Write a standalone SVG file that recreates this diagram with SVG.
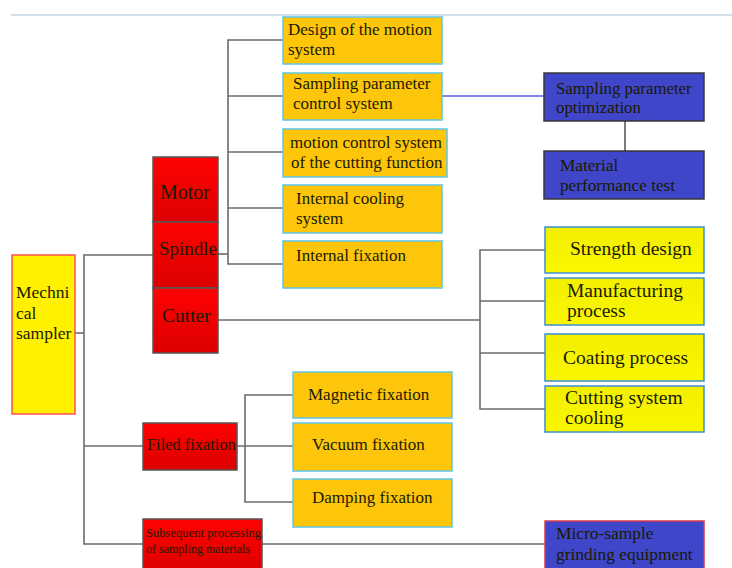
<svg xmlns="http://www.w3.org/2000/svg" width="732" height="568" viewBox="0 0 732 568">
<defs>
<linearGradient id="red" x1="0" y1="0" x2="0" y2="1">
<stop offset="0" stop-color="#ff0202"/>
<stop offset="1" stop-color="#dc0000"/>
</linearGradient>
<linearGradient id="yel" x1="0" y1="0" x2="0" y2="1">
<stop offset="0" stop-color="#f2ef00"/>
<stop offset="1" stop-color="#fbf700"/>
</linearGradient>
</defs>
<style>
text{font-family:"Liberation Serif","Times New Roman",serif;fill:#1a1a00}
.red{fill:url(#red);stroke:#555;stroke-width:1.5}
.org{fill:#fdc60b;stroke:#5ec6e6;stroke-width:1.5}
.yel{fill:url(#yel);stroke:#3c8fd2;stroke-width:1.5}
.blu{fill:#3f46c9;stroke:#3a3a3a;stroke-width:1.5}
.root{fill:#fff100;stroke:#ff5050;stroke-width:1.5}
.c{fill:none;stroke:#6b6b6b;stroke-width:1.6}
.t17{font-size:17px}
.t19{font-size:19.5px}
</style>
<line x1="11" y1="15" x2="732" y2="15" stroke="#c6d4e6" stroke-width="1.5"/>
<g id="connectors">
<polyline class="c" points="75,333 84,333"/>
<polyline class="c" points="153,255 84,255 84,544 143,544"/>
<polyline class="c" points="84,446 143,446"/>
<polyline class="c" points="218,254 228,254"/>
<polyline class="c" points="283,40 228,40 228,264 283,264"/>
<polyline class="c" points="228,96 283,96"/>
<polyline class="c" points="228,152 283,152"/>
<polyline class="c" points="228,208 283,208"/>
<polyline class="c" points="218,320 480,320"/>
<polyline class="c" points="545,250 480,250 480,409 545,409"/>
<polyline class="c" points="480,301 545,301"/>
<polyline class="c" points="480,353 545,353"/>
<polyline class="c" points="237,446 293,446"/>
<polyline class="c" points="293,395 245,395 245,502 293,502"/>
<polyline class="c" points="262,544 545,544"/>
<line x1="442" y1="96" x2="544" y2="96" stroke="#5b5bdc" stroke-width="1.4"/>
<line x1="625" y1="121" x2="625" y2="151" stroke="#5a5a5a" stroke-width="1.6"/>
</g>
<g id="root">
<rect class="root" x="12" y="255" width="63" height="159"/>
<text x="16" y="298" font-size="17.5">Mechni</text>
<text x="16" y="319" font-size="17.5">cal</text>
<text x="16" y="339" font-size="17.5">sampler</text>
</g>
<g id="motor">
<rect class="red" x="153" y="157" width="65" height="65"/>
<text x="160" y="199" font-size="20">Motor</text>
</g>
<g id="spindle">
<rect class="red" x="153" y="222" width="65" height="66"/>
<text x="159" y="255" font-size="19">Spindle</text>
</g>
<g id="cutter">
<rect class="red" x="153" y="288" width="65" height="65"/>
<text x="162" y="322" font-size="19.5">Cutter</text>
</g>
<g id="design-motion">
<rect class="org" x="283" y="17" width="159" height="47"/>
<text class="t17" x="288" y="35">Design of the motion</text>
<text class="t17" x="288" y="55">system</text>
</g>
<g id="sampling-control">
<rect class="org" x="283" y="73" width="159" height="47"/>
<text class="t17" x="293" y="89">Sampling parameter</text>
<text class="t17" x="293" y="109">control system</text>
</g>
<g id="motion-cutting">
<rect class="org" x="283" y="129" width="164" height="48"/>
<text class="t17" x="290" y="148">motion control system</text>
<text class="t17" x="291" y="168">of the cutting function</text>
</g>
<g id="internal-cooling">
<rect class="org" x="283" y="185" width="159" height="48"/>
<text class="t17" x="296" y="204">Internal cooling</text>
<text class="t17" x="296" y="224">system</text>
</g>
<g id="internal-fixation">
<rect class="org" x="283" y="241" width="159" height="47"/>
<text class="t17" x="296" y="261">Internal fixation</text>
</g>
<g id="sampling-optimization">
<rect class="blu" x="544" y="73" width="160" height="48"/>
<text x="556" y="94" font-size="16.8">Sampling parameter</text>
<text x="556" y="113" font-size="16.8">optimization</text>
</g>
<g id="material-test">
<rect class="blu" x="544" y="151" width="160" height="48"/>
<text x="560" y="171" font-size="17.2">Material</text>
<text x="560" y="191" font-size="17.2">performance test</text>
</g>
<g id="strength">
<rect class="yel" x="545" y="227" width="159" height="46"/>
<text class="t19" x="570" y="255">Strength design</text>
</g>
<g id="manufacturing">
<rect class="yel" x="545" y="278" width="159" height="47"/>
<text class="t19" x="567" y="297">Manufacturing</text>
<text class="t19" x="567" y="317">process</text>
</g>
<g id="coating">
<rect class="yel" x="545" y="334" width="159" height="47"/>
<text class="t19" x="563" y="364">Coating process</text>
</g>
<g id="cutting-cooling">
<rect class="yel" x="545" y="386" width="159" height="46"/>
<text class="t19" x="565" y="404">Cutting system</text>
<text class="t19" x="565" y="424">cooling</text>
</g>
<g id="filed-fixation">
<rect class="red" x="143" y="423" width="94" height="47"/>
<text x="147" y="450" font-size="16.4">Filed fixation</text>
</g>
<g id="magnetic">
<rect class="org" x="293" y="372" width="159" height="46"/>
<text class="t17" x="308" y="400">Magnetic fixation</text>
</g>
<g id="vacuum">
<rect class="org" x="293" y="423" width="159" height="48"/>
<text class="t17" x="312" y="450">Vacuum fixation</text>
</g>
<g id="damping">
<rect class="org" x="293" y="479" width="159" height="48"/>
<text class="t17" x="312" y="503">Damping fixation</text>
</g>
<g id="subsequent">
<rect class="red" x="143" y="519" width="119" height="52"/>
<text x="146" y="537" font-size="13" textLength="115" lengthAdjust="spacingAndGlyphs">Subsequent processing</text>
<text x="146" y="553" font-size="13" textLength="104" lengthAdjust="spacingAndGlyphs">of sampling materials</text>
</g>
<g id="micro-sample">
<rect x="545" y="521" width="159" height="50" fill="#3f46c9" stroke="#d83a4a" stroke-width="1.5"/>
<text x="556" y="539" font-size="17.4">Micro-sample</text>
<text x="556" y="560" font-size="17.4">grinding equipment</text>
</g>
</svg>
